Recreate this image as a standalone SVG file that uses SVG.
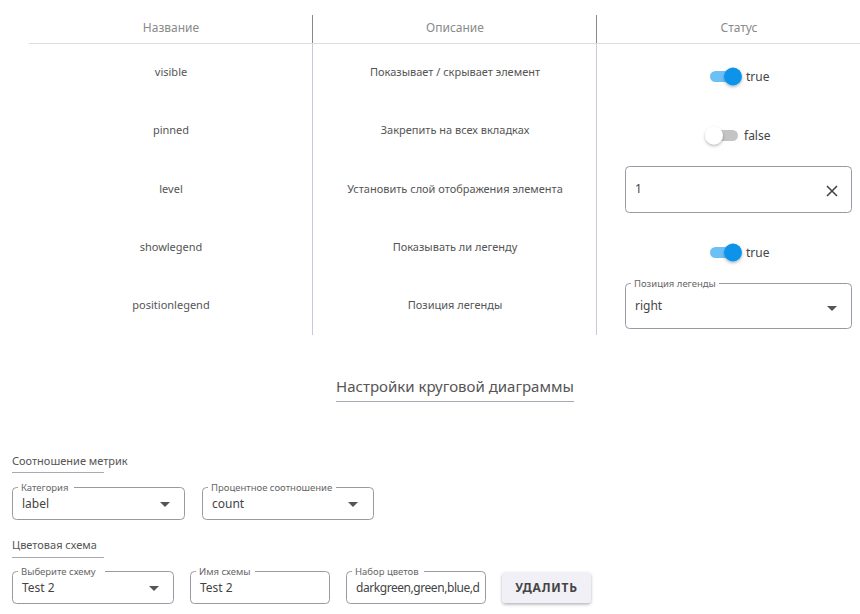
<svg xmlns="http://www.w3.org/2000/svg" width="860" height="614" viewBox="0 0 860 614">
<defs>
<style>
text{font-family:"Noto Sans","Open Sans","Liberation Sans",sans-serif;}
.hd{font-size:12px;fill:#8a8a8a;text-anchor:middle;}
.cell{font-size:11px;fill:#555;text-anchor:middle;}
.val{font-size:12px;fill:#444;}
.lbl{font-size:9.5px;fill:#666;}
.box{fill:#fff;stroke:#9a99a3;stroke-width:1;}
.sect{font-size:11px;fill:#555;}
.ul{stroke:#a9a8b3;stroke-width:1;}
.vsep{stroke:#c9c7d9;stroke-width:1;}
.arr{fill:#555;}
</style>
<filter id="sh" x="-50%" y="-50%" width="200%" height="200%">
<feDropShadow dx="0" dy="1.5" stdDeviation="1.5" flood-color="#000" flood-opacity="0.3"/>
</filter>
</defs>
<rect width="860" height="614" fill="#fff"/>

<g id="table">
<line x1="312.5" y1="15" x2="312.5" y2="43" stroke="#888"/>
<line x1="596.5" y1="15" x2="596.5" y2="43" stroke="#888"/>
<line x1="29" y1="43.5" x2="860" y2="43.5" stroke="#ddd"/>
<line class="vsep" x1="312.5" y1="44" x2="312.5" y2="335"/>
<line class="vsep" x1="596.5" y1="44" x2="596.5" y2="335"/>
<text class="hd" x="171" y="32">Название</text>
<text class="hd" x="455" y="32">Описание</text>
<text class="hd" x="739" y="32">Статус</text>
</g>

<g id="row-visible">
<text class="cell" x="171" y="76">visible</text>
<text class="cell" x="455" y="76">Показывает / скрывает элемент</text>
<rect x="710" y="71" width="26" height="11" rx="5.5" fill="#6cc0f5"/>
<circle cx="733" cy="76.5" r="9" fill="#0a93ea" filter="url(#sh)"/>
<text class="val" x="746" y="81" fill="#555">true</text>
</g>

<g id="row-pinned">
<text class="cell" x="171" y="134">pinned</text>
<text class="cell" x="455" y="134">Закрепить на всех вкладках</text>
<rect x="712" y="130" width="26" height="11" rx="5.5" fill="#c4c4c4"/>
<circle cx="714" cy="135.5" r="9" fill="#fff" filter="url(#sh)"/>
<text class="val" x="744" y="140" fill="#555">false</text>
</g>

<g id="row-level">
<text class="cell" x="171" y="193">level</text>
<text class="cell" x="455" y="193">Установить слой отображения элемента</text>
<rect class="box" x="625.5" y="166.5" width="226" height="46" rx="4"/>
<text class="val" x="635" y="193">1</text>
<path d="M827 186 L837 196 M837 186 L827 196" stroke="#444" stroke-width="1.6"/>
</g>

<g id="row-showlegend">
<text class="cell" x="171" y="251">showlegend</text>
<text class="cell" x="455" y="251">Показывать ли легенду</text>
<rect x="710" y="247" width="26" height="11" rx="5.5" fill="#6cc0f5"/>
<circle cx="733" cy="252.5" r="9" fill="#0a93ea" filter="url(#sh)"/>
<text class="val" x="746" y="257" fill="#555">true</text>
</g>

<g id="row-positionlegend">
<text class="cell" x="171" y="309">positionlegend</text>
<text class="cell" x="455" y="309">Позиция легенды</text>
<rect class="box" x="625.5" y="283.5" width="226" height="45" rx="4"/>
<rect x="631" y="279" width="88" height="9" fill="#fff"/>
<text class="lbl" x="634" y="286.5">Позиция легенды</text>
<text class="val" x="635" y="310">right</text>
<path class="arr" d="M827 306 L837 306 L832 311 Z"/>
</g>

<g id="pie-title">
<text x="455" y="392" font-size="15" fill="#555" text-anchor="middle">Настройки круговой диаграммы</text>
<line class="ul" x1="336" y1="401.5" x2="574" y2="401.5"/>
</g>

<g id="metrics">
<text class="sect" x="12" y="465">Соотношение метрик</text>
<line class="ul" x1="12" y1="472.5" x2="104" y2="472.5"/>
</g>

<g id="category">
<rect class="box" x="12.5" y="487.5" width="172" height="32" rx="4"/>
<rect x="18" y="483" width="56" height="9" fill="#fff"/>
<text class="lbl" x="21" y="490.5">Категория</text>
<text class="val" x="22" y="508">label</text>
<path class="arr" d="M160 502 L170 502 L165 507 Z"/>
</g>

<g id="percent">
<rect class="box" x="202.5" y="487.5" width="171" height="32" rx="4"/>
<rect x="208" y="483" width="128" height="9" fill="#fff"/>
<text class="lbl" x="211" y="490.5">Процентное соотношение</text>
<text class="val" x="212" y="508">count</text>
<path class="arr" d="M348 502 L358 502 L353 507 Z"/>
</g>

<g id="colors">
<text class="sect" x="12" y="549">Цветовая схема</text>
<line class="ul" x1="12" y1="557.5" x2="104" y2="557.5"/>
</g>

<g id="scheme-select">
<rect class="box" x="12.5" y="571.5" width="161" height="32" rx="4"/>
<rect x="18" y="567" width="87" height="9" fill="#fff"/>
<text class="lbl" x="21" y="574.5">Выберите схему</text>
<text class="val" x="22" y="592">Test 2</text>
<path class="arr" d="M149 586 L159 586 L154 591 Z"/>
</g>

<g id="scheme-name">
<rect class="box" x="190.5" y="571.5" width="139" height="32" rx="4"/>
<rect x="196" y="567" width="59" height="9" fill="#fff"/>
<text class="lbl" x="199" y="574.5">Имя схемы</text>
<text class="val" x="200" y="592">Test 2</text>
</g>

<g id="color-set">
<rect class="box" x="346.5" y="571.5" width="139" height="32" rx="4"/>
<rect x="352" y="567" width="72" height="9" fill="#fff"/>
<text class="lbl" x="355" y="574.5">Набор цветов</text>
<text class="val" x="356" y="592" textLength="124">darkgreen,green,blue,d</text>
</g>

<g id="delete-btn">
<rect x="502" y="572" width="89" height="31" rx="4" fill="#f1f0f7" filter="url(#sh)"/>
<text x="546.5" y="592" font-size="12" font-weight="bold" fill="#444" text-anchor="middle" letter-spacing="0.8">УДАЛИТЬ</text>
</g>
</svg>
